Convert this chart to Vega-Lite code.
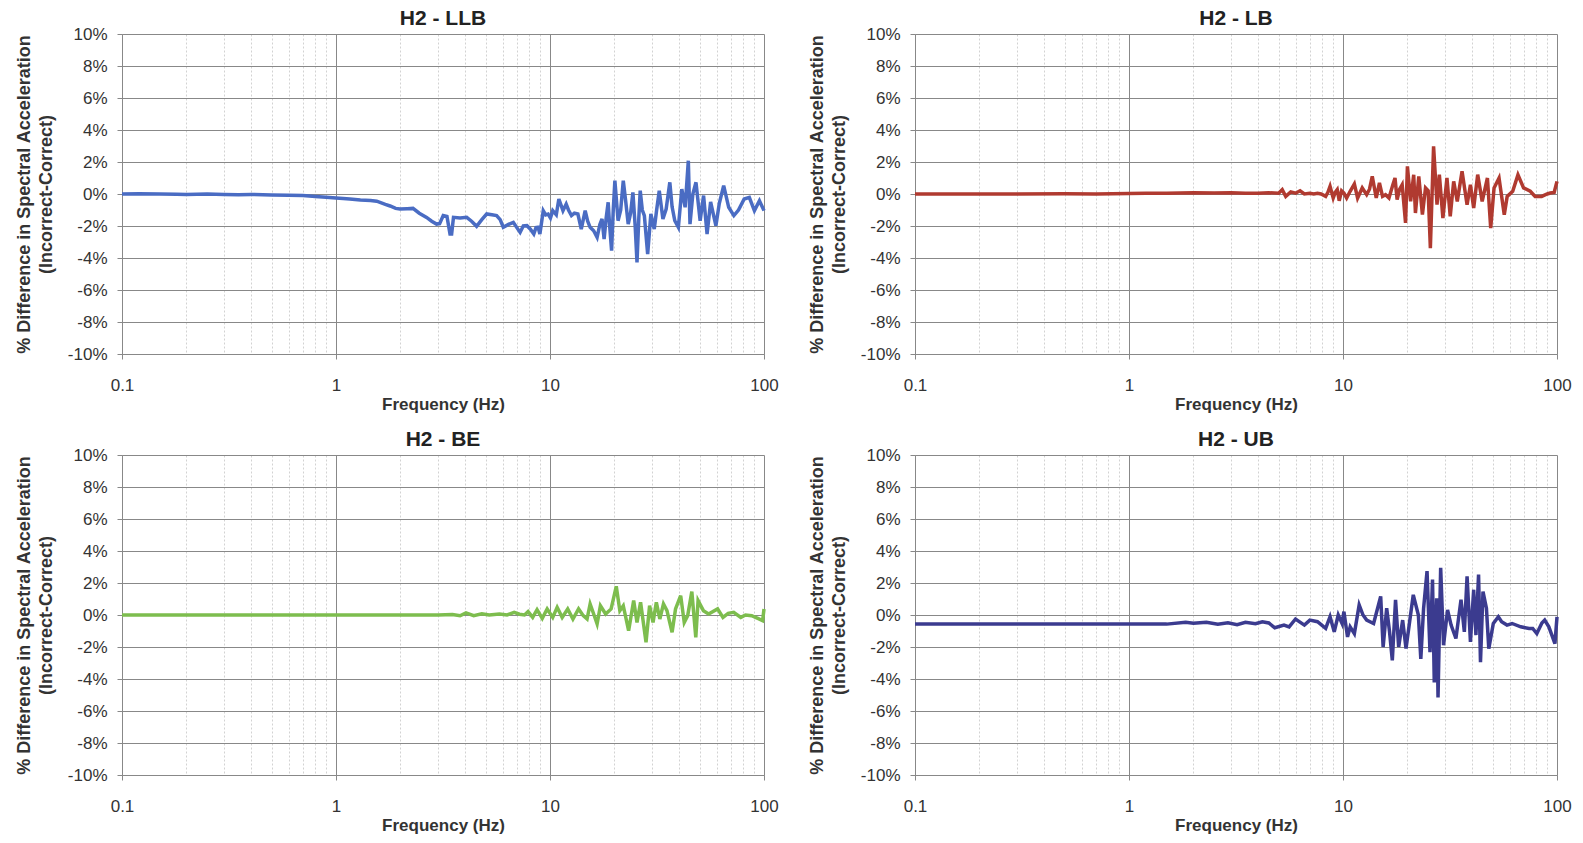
{
"$schema": "https://vega.github.io/schema/vega-lite/v6.json",
"background": "white",
"padding": {"left": 15, "top": 8, "right": 5, "bottom": 5},
"bounds": "flush",
"columns": 2,
"spacing": {"row": 101, "column": 151},
"config": {
  "font": "Liberation Sans",
  "view": {"stroke": null},
  "title": {"fontSize": 21, "fontWeight": "bold", "color": "#222", "frame": "group", "anchor": "middle", "offset": -4},
  "axis": {"labelFontSize": 17, "labelColor": "#333", "titleFontWeight": "bold", "titleColor": "#333", "domainColor": "#888", "tickColor": "#888", "gridColor": "#888888", "gridOpacity": 1, "labelOverlap": false, "labelFlush": false, "labelFont": "Liberation Sans", "titleFont": "Liberation Sans"},
  "axisX": {"labelPadding": 18, "titlePadding": 3, "tickSize": 5, "titleFontSize": 17},
  "axisY": {"labelPadding": 10, "titlePadding": 12, "tickSize": 5, "titleLineHeight": 22, "titleFontSize": 18},
  "line": {"strokeWidth": 3.5, "interpolate": "linear"}
},
"concat": [
  {"title": "H2 - LLB", "width": 642, "height": 320,
   "data": {"values": [
{"f":0.1,"v":0.0},{"f":0.12,"v":0.02},{"f":0.15,"v":0.0},{"f":0.18,"v":-0.02},{"f":0.2,"v":-0.03},{"f":0.25,"v":0.0},{"f":0.3,"v":-0.03},{"f":0.35,"v":-0.05},{"f":0.4,"v":-0.03},{"f":0.5,"v":-0.06},{"f":0.6,"v":-0.08},{"f":0.7,"v":-0.1},{"f":0.8,"v":-0.15},{"f":0.9,"v":-0.2},{"f":1.0,"v":-0.25},{"f":1.08,"v":-0.28},{"f":1.16,"v":-0.31},{"f":1.3,"v":-0.38},{"f":1.45,"v":-0.4},{"f":1.55,"v":-0.45},{"f":1.7,"v":-0.65},{"f":1.79,"v":-0.75},{"f":1.9,"v":-0.9},{"f":1.99,"v":-0.94},{"f":2.15,"v":-0.92},{"f":2.29,"v":-0.9},{"f":2.45,"v":-1.2},{"f":2.65,"v":-1.46},{"f":2.8,"v":-1.7},{"f":2.95,"v":-1.88},{"f":3.05,"v":-1.85},{"f":3.17,"v":-1.35},{"f":3.3,"v":-1.4},{"f":3.41,"v":-2.5},{"f":3.47,"v":-2.5},{"f":3.54,"v":-1.46},{"f":3.8,"v":-1.5},{"f":4.08,"v":-1.46},{"f":4.3,"v":-1.7},{"f":4.54,"v":-2.02},{"f":4.8,"v":-1.6},{"f":5.06,"v":-1.25},{"f":5.35,"v":-1.3},{"f":5.63,"v":-1.35},{"f":5.85,"v":-1.6},{"f":6.05,"v":-2.08},{"f":6.4,"v":-1.9},{"f":6.74,"v":-1.77},{"f":7.0,"v":-2.1},{"f":7.25,"v":-2.4},{"f":7.5,"v":-2.0},{"f":7.8,"v":-1.98},{"f":8.1,"v":-2.2},{"f":8.4,"v":-2.5},{"f":8.6,"v":-2.1},{"f":8.8,"v":-2.08},{"f":8.97,"v":-2.5},{"f":9.3,"v":-1.04},{"f":9.55,"v":-1.3},{"f":9.8,"v":-1.25},{"f":10.05,"v":-1.5},{"f":10.3,"v":-1.04},{"f":10.7,"v":-1.3},{"f":11.0,"v":-0.31},{"f":11.5,"v":-1.04},{"f":11.9,"v":-0.63},{"f":12.2,"v":-1.0},{"f":12.6,"v":-1.35},{"f":13.0,"v":-1.2},{"f":13.5,"v":-1.25},{"f":14.0,"v":-2.19},{"f":14.6,"v":-1.04},{"f":15.0,"v":-1.7},{"f":15.4,"v":-2.08},{"f":16.0,"v":-2.3},{"f":16.6,"v":-2.71},{"f":17.1,"v":-1.9},{"f":17.5,"v":-1.56},{"f":17.9,"v":-2.81},{"f":18.3,"v":-1.5},{"f":18.7,"v":-0.52},{"f":19.0,"v":-2.0},{"f":19.4,"v":-3.54},{"f":19.75,"v":-1.0},{"f":20.1,"v":0.83},{"f":20.8,"v":-1.67},{"f":21.4,"v":-1.0},{"f":22.0,"v":0.83},{"f":22.6,"v":-0.5},{"f":23.2,"v":-1.88},{"f":23.8,"v":-1.2},{"f":24.4,"v":0.1},{"f":25.0,"v":-2.0},{"f":25.5,"v":-4.27},{"f":26.0,"v":-1.5},{"f":26.4,"v":0.21},{"f":27.0,"v":-1.0},{"f":27.6,"v":-1.35},{"f":28.6,"v":-3.75},{"f":29.6,"v":-1.25},{"f":30.7,"v":-2.19},{"f":31.5,"v":-1.0},{"f":32.4,"v":0.21},{"f":33.7,"v":-1.56},{"f":34.9,"v":-0.94},{"f":36.3,"v":0.73},{"f":37.2,"v":-0.8},{"f":38.3,"v":-1.67},{"f":39.8,"v":-2.08},{"f":41.3,"v":0.31},{"f":42.8,"v":-0.83},{"f":44.3,"v":2.08},{"f":45.1,"v":-1.88},{"f":46.5,"v":0.0},{"f":48.1,"v":0.73},{"f":50.3,"v":-1.67},{"f":52.2,"v":-0.1},{"f":54.2,"v":-2.5},{"f":56.3,"v":-0.5},{"f":59.6,"v":-1.98},{"f":61.8,"v":-0.6},{"f":64.8,"v":0.52},{"f":68.4,"v":-0.83},{"f":72.3,"v":-1.35},{"f":76.0,"v":-1.0},{"f":80.8,"v":-0.31},{"f":85.4,"v":-0.21},{"f":90.2,"v":-1.04},{"f":95.2,"v":-0.42},{"f":100,"v":-1.04}
   ]},
   "mark": {"type": "line", "color": "#4a6cc3"},
   "encoding": {
    "x": {"field": "f", "type": "quantitative", "scale": {"type": "log", "domain": [0.1, 100]},
      "axis": {"title": "Frequency (Hz)", "values": [0.1,0.2,0.3,0.4,0.5,0.6,0.7,0.8,0.9,1,2,3,4,5,6,7,8,9,10,20,30,40,50,60,70,80,90,100],
        "labelExpr": "indexof([0.1,1,10,100], datum.value) >= 0 ? format(datum.value, '~g') : ''",
        "gridColor": {"condition": {"test": "indexof([0.1,1,10,100], datum.value) >= 0", "value": "#888888"}, "value": "#d2d2d2"},
        "gridDash": {"condition": {"test": "indexof([0.1,1,10,100], datum.value) >= 0", "value": []}, "value": [2, 2]},
        "tickOpacity": {"condition": {"test": "indexof([0.1,1,10,100], datum.value) >= 0", "value": 1}, "value": 0}}},
    "y": {"field": "v", "type": "quantitative", "scale": {"domain": [-10, 10], "nice": false},
      "axis": {"title": ["% Difference in Spectral Acceleration", "(Incorrect-Correct)"], "values": [-10,-8,-6,-4,-2,0,2,4,6,8,10], "labelExpr": "datum.value + '%'"}}
   }},
  {"title": "H2 - LB", "width": 642, "height": 320,
   "data": {"values": [
{"f":0.1,"v":0.0},{"f":0.15,"v":0.0},{"f":0.2,"v":0.0},{"f":0.3,"v":0.0},{"f":0.5,"v":0.02},{"f":0.7,"v":0.0},{"f":1.0,"v":0.03},{"f":1.2,"v":0.05},{"f":1.5,"v":0.05},{"f":2.0,"v":0.08},{"f":2.5,"v":0.06},{"f":3.0,"v":0.08},{"f":3.5,"v":0.05},{"f":4.0,"v":0.04},{"f":4.5,"v":0.08},{"f":5.0,"v":0.05},{"f":5.2,"v":0.27},{"f":5.4,"v":-0.15},{"f":5.7,"v":0.13},{"f":6.0,"v":0.05},{"f":6.3,"v":0.2},{"f":6.6,"v":0.0},{"f":7.0,"v":0.05},{"f":7.3,"v":0.0},{"f":7.6,"v":0.05},{"f":7.9,"v":0.0},{"f":8.3,"v":-0.15},{"f":8.5,"v":0.1},{"f":8.7,"v":0.48},{"f":9.0,"v":-0.25},{"f":9.2,"v":0.1},{"f":9.4,"v":0.27},{"f":9.6,"v":-0.42},{"f":9.85,"v":0.2},{"f":10.1,"v":0.06},{"f":10.4,"v":-0.25},{"f":10.8,"v":0.17},{"f":11.3,"v":0.63},{"f":11.7,"v":-0.25},{"f":12.3,"v":0.38},{"f":12.9,"v":-0.04},{"f":13.3,"v":0.3},{"f":13.7,"v":1.1},{"f":14.3,"v":-0.25},{"f":14.8,"v":0.69},{"f":15.3,"v":-0.15},{"f":15.8,"v":-0.04},{"f":16.4,"v":-0.25},{"f":17.1,"v":0.58},{"f":17.5,"v":1.0},{"f":17.9,"v":-0.35},{"f":18.4,"v":0.3},{"f":18.9,"v":0.58},{"f":19.6,"v":-1.81},{"f":20.0,"v":1.73},{"f":20.7,"v":-0.46},{"f":21.4,"v":1.2},{"f":21.8,"v":-1.19},{"f":22.6,"v":1.1},{"f":23.5,"v":-1.29},{"f":24.3,"v":0.38},{"f":25.0,"v":0.2},{"f":25.6,"v":-3.38},{"f":26.5,"v":2.98},{"f":27.5,"v":-0.67},{"f":28.2,"v":1.21},{"f":29.3,"v":-1.5},{"f":30.6,"v":1.0},{"f":31.7,"v":-1.4},{"f":32.9,"v":0.79},{"f":34.2,"v":-0.46},{"f":36.0,"v":1.42},{"f":38.0,"v":-0.67},{"f":39.4,"v":0.58},{"f":40.8,"v":-0.88},{"f":42.6,"v":1.21},{"f":44.7,"v":-0.46},{"f":47.3,"v":1.0},{"f":49.0,"v":-2.13},{"f":50.8,"v":0.38},{"f":53.6,"v":1.0},{"f":56.7,"v":-1.29},{"f":58.5,"v":-0.15},{"f":62.1,"v":0.17},{"f":65.7,"v":1.2},{"f":69.8,"v":0.38},{"f":75.0,"v":0.17},{"f":79.0,"v":-0.15},{"f":84.8,"v":-0.15},{"f":90.0,"v":0.0},{"f":93.0,"v":0.06},{"f":97.0,"v":0.1},{"f":100,"v":0.79}
   ]},
   "mark": {"type": "line", "color": "#b03a30"},
   "encoding": {
    "x": {"field": "f", "type": "quantitative", "scale": {"type": "log", "domain": [0.1, 100]},
      "axis": {"title": "Frequency (Hz)", "values": [0.1,0.2,0.3,0.4,0.5,0.6,0.7,0.8,0.9,1,2,3,4,5,6,7,8,9,10,20,30,40,50,60,70,80,90,100],
        "labelExpr": "indexof([0.1,1,10,100], datum.value) >= 0 ? format(datum.value, '~g') : ''",
        "gridColor": {"condition": {"test": "indexof([0.1,1,10,100], datum.value) >= 0", "value": "#888888"}, "value": "#d2d2d2"},
        "gridDash": {"condition": {"test": "indexof([0.1,1,10,100], datum.value) >= 0", "value": []}, "value": [2, 2]},
        "tickOpacity": {"condition": {"test": "indexof([0.1,1,10,100], datum.value) >= 0", "value": 1}, "value": 0}}},
    "y": {"field": "v", "type": "quantitative", "scale": {"domain": [-10, 10], "nice": false},
      "axis": {"title": ["% Difference in Spectral Acceleration", "(Incorrect-Correct)"], "values": [-10,-8,-6,-4,-2,0,2,4,6,8,10], "labelExpr": "datum.value + '%'"}}
   }},
  {"title": "H2 - BE", "width": 642, "height": 320,
   "data": {"values": [
{"f":0.1,"v":0.0},{"f":0.2,"v":0.0},{"f":0.3,"v":0.0},{"f":0.5,"v":0.0},{"f":0.7,"v":0.0},{"f":1.0,"v":0.0},{"f":1.5,"v":0.0},{"f":2.0,"v":0.0},{"f":2.5,"v":0.0},{"f":3.0,"v":0.0},{"f":3.5,"v":0.03},{"f":3.8,"v":-0.05},{"f":4.05,"v":0.13},{"f":4.4,"v":-0.04},{"f":4.8,"v":0.08},{"f":5.2,"v":0.0},{"f":5.8,"v":0.06},{"f":6.3,"v":0.0},{"f":6.8,"v":0.17},{"f":7.2,"v":0.05},{"f":7.6,"v":0.0},{"f":7.9,"v":0.21},{"f":8.3,"v":-0.15},{"f":8.7,"v":0.33},{"f":9.2,"v":-0.21},{"f":9.7,"v":0.38},{"f":10.3,"v":-0.15},{"f":10.8,"v":0.48},{"f":11.4,"v":-0.15},{"f":12.1,"v":0.38},{"f":12.8,"v":-0.25},{"f":13.6,"v":0.38},{"f":14.3,"v":-0.04},{"f":14.9,"v":-0.25},{"f":15.4,"v":0.69},{"f":16.0,"v":0.06},{"f":16.6,"v":-0.56},{"f":17.2,"v":0.58},{"f":18.2,"v":0.06},{"f":19.3,"v":0.38},{"f":20.4,"v":1.79},{"f":21.2,"v":0.27},{"f":22.0,"v":0.58},{"f":23.3,"v":-0.98},{"f":24.6,"v":0.9},{"f":25.5,"v":-0.46},{"f":26.5,"v":0.79},{"f":28.1,"v":-1.71},{"f":29.2,"v":0.58},{"f":30.3,"v":-0.46},{"f":31.4,"v":0.79},{"f":32.6,"v":-0.25},{"f":33.9,"v":0.69},{"f":35.2,"v":0.27},{"f":37.2,"v":-1.08},{"f":38.6,"v":0.38},{"f":40.8,"v":1.21},{"f":42.4,"v":-0.46},{"f":44.0,"v":-0.04},{"f":46.0,"v":1.46},{"f":48.0,"v":-1.4},{"f":49.2,"v":0.9},{"f":52.1,"v":0.27},{"f":55.1,"v":0.06},{"f":60.7,"v":0.38},{"f":64.3,"v":-0.15},{"f":68.0,"v":0.1},{"f":72.2,"v":0.17},{"f":77.9,"v":-0.15},{"f":82.0,"v":0.0},{"f":87.6,"v":-0.04},{"f":93.0,"v":-0.2},{"f":98.5,"v":-0.35},{"f":100,"v":0.38}
   ]},
   "mark": {"type": "line", "color": "#7dbd4e"},
   "encoding": {
    "x": {"field": "f", "type": "quantitative", "scale": {"type": "log", "domain": [0.1, 100]},
      "axis": {"title": "Frequency (Hz)", "values": [0.1,0.2,0.3,0.4,0.5,0.6,0.7,0.8,0.9,1,2,3,4,5,6,7,8,9,10,20,30,40,50,60,70,80,90,100],
        "labelExpr": "indexof([0.1,1,10,100], datum.value) >= 0 ? format(datum.value, '~g') : ''",
        "gridColor": {"condition": {"test": "indexof([0.1,1,10,100], datum.value) >= 0", "value": "#888888"}, "value": "#d2d2d2"},
        "gridDash": {"condition": {"test": "indexof([0.1,1,10,100], datum.value) >= 0", "value": []}, "value": [2, 2]},
        "tickOpacity": {"condition": {"test": "indexof([0.1,1,10,100], datum.value) >= 0", "value": 1}, "value": 0}}},
    "y": {"field": "v", "type": "quantitative", "scale": {"domain": [-10, 10], "nice": false},
      "axis": {"title": ["% Difference in Spectral Acceleration", "(Incorrect-Correct)"], "values": [-10,-8,-6,-4,-2,0,2,4,6,8,10], "labelExpr": "datum.value + '%'"}}
   }},
  {"title": "H2 - UB", "width": 642, "height": 320,
   "data": {"values": [
{"f":0.1,"v":-0.57},{"f":0.2,"v":-0.57},{"f":0.3,"v":-0.57},{"f":0.5,"v":-0.57},{"f":0.8,"v":-0.57},{"f":1.0,"v":-0.57},{"f":1.5,"v":-0.57},{"f":1.84,"v":-0.46},{"f":2.0,"v":-0.52},{"f":2.3,"v":-0.45},{"f":2.6,"v":-0.58},{"f":2.9,"v":-0.48},{"f":3.2,"v":-0.6},{"f":3.5,"v":-0.45},{"f":3.9,"v":-0.55},{"f":4.2,"v":-0.42},{"f":4.5,"v":-0.5},{"f":4.8,"v":-0.8},{"f":5.3,"v":-0.63},{"f":5.6,"v":-0.74},{"f":6.0,"v":-0.25},{"f":6.6,"v":-0.63},{"f":7.0,"v":-0.32},{"f":7.6,"v":-0.42},{"f":8.3,"v":-0.84},{"f":8.7,"v":-0.11},{"f":9.1,"v":-1.05},{"f":9.5,"v":0.0},{"f":9.9,"v":-0.53},{"f":10.1,"v":0.21},{"f":10.5,"v":-1.37},{"f":10.8,"v":-0.74},{"f":11.3,"v":-1.16},{"f":11.9,"v":0.63},{"f":12.4,"v":0.0},{"f":12.9,"v":-0.32},{"f":13.9,"v":-0.53},{"f":15.0,"v":1.16},{"f":15.4,"v":-2.0},{"f":16.0,"v":0.42},{"f":16.5,"v":-1.05},{"f":17.0,"v":-2.84},{"f":17.6,"v":0.95},{"f":18.2,"v":-2.0},{"f":19.0,"v":-0.32},{"f":19.7,"v":-2.1},{"f":21.3,"v":1.26},{"f":22.5,"v":0.0},{"f":23.1,"v":-2.74},{"f":23.8,"v":0.42},{"f":24.7,"v":2.74},{"f":25.5,"v":-2.32},{"f":26.2,"v":2.21},{"f":26.7,"v":-4.21},{"f":27.4,"v":1.05},{"f":27.8,"v":-5.16},{"f":28.6,"v":2.95},{"f":29.5,"v":-1.89},{"f":30.8,"v":0.32},{"f":32.0,"v":-0.63},{"f":33.7,"v":-1.47},{"f":35.6,"v":0.95},{"f":36.9,"v":-1.05},{"f":38.0,"v":2.42},{"f":39.4,"v":-1.68},{"f":40.8,"v":1.58},{"f":41.8,"v":-1.26},{"f":43.0,"v":2.53},{"f":43.9,"v":-2.95},{"f":45.1,"v":1.47},{"f":46.8,"v":0.42},{"f":48.0,"v":-2.1},{"f":50.4,"v":-0.53},{"f":53.2,"v":-0.11},{"f":55.1,"v":-0.42},{"f":58.4,"v":-0.63},{"f":61.7,"v":-0.53},{"f":67.7,"v":-0.74},{"f":74.0,"v":-0.84},{"f":77.0,"v":-0.84},{"f":80.5,"v":-1.16},{"f":85.0,"v":-0.5},{"f":87.6,"v":-0.32},{"f":91.6,"v":-0.74},{"f":97.8,"v":-1.79},{"f":100,"v":-0.11}
   ]},
   "mark": {"type": "line", "color": "#3b3b8f"},
   "encoding": {
    "x": {"field": "f", "type": "quantitative", "scale": {"type": "log", "domain": [0.1, 100]},
      "axis": {"title": "Frequency (Hz)", "values": [0.1,0.2,0.3,0.4,0.5,0.6,0.7,0.8,0.9,1,2,3,4,5,6,7,8,9,10,20,30,40,50,60,70,80,90,100],
        "labelExpr": "indexof([0.1,1,10,100], datum.value) >= 0 ? format(datum.value, '~g') : ''",
        "gridColor": {"condition": {"test": "indexof([0.1,1,10,100], datum.value) >= 0", "value": "#888888"}, "value": "#d2d2d2"},
        "gridDash": {"condition": {"test": "indexof([0.1,1,10,100], datum.value) >= 0", "value": []}, "value": [2, 2]},
        "tickOpacity": {"condition": {"test": "indexof([0.1,1,10,100], datum.value) >= 0", "value": 1}, "value": 0}}},
    "y": {"field": "v", "type": "quantitative", "scale": {"domain": [-10, 10], "nice": false},
      "axis": {"title": ["% Difference in Spectral Acceleration", "(Incorrect-Correct)"], "values": [-10,-8,-6,-4,-2,0,2,4,6,8,10], "labelExpr": "datum.value + '%'"}}
   }}
]
}
